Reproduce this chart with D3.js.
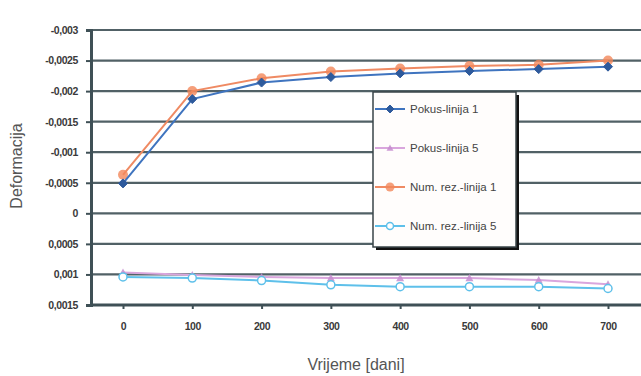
<!DOCTYPE html>
<html>
<head>
<meta charset="utf-8">
<script src="https://cdn.jsdelivr.net/npm/d3@7/dist/d3.min.js"></script>
<style>
  html, body { margin: 0; padding: 0; background: #ffffff; }
  svg { display: block; }
  text { font-family: "Liberation Sans", Arial, sans-serif; }
</style>
</head>
<body>
<svg id="chart" width="641" height="376"></svg>
<script>
// Time points (days)
const days = ["0", "100", "200", "300", "400", "500", "600", "700"];

// Measured and numerical deformation, lines 1 and 5
const pokusLinija1 = [-0.00049, -0.00187, -0.00214, -0.00223, -0.00229, -0.00233, -0.00236, -0.00240];
const pokusLinija5 = [0.00097, 0.00101, 0.00104, 0.00106, 0.00106, 0.00106, 0.00109, 0.00116];
const numRezLinija1 = [-0.00063, -0.00200, -0.00221, -0.00232, -0.00237, -0.00241, -0.00243, -0.00250];
const numRezLinija5 = [0.00104, 0.00106, 0.00110, 0.00117, 0.00120, 0.00120, 0.00120, 0.00123];

// Value-axis ticks and their printed labels
const yTicks = [-0.003, -0.0025, -0.002, -0.0015, -0.001, -0.0005, 0, 0.0005, 0.001, 0.0015];
const yTickLabels = ["-0,003", "-0,0025", "-0,002", "-0,0015", "-0,001", "-0,0005", "0", "0,0005", "0,001", "0,0015"];

const seriesNames = ["Pokus-linija 1", "Pokus-linija 5", "Num. rez.-linija 1", "Num. rez.-linija 5"];

const svg = d3.select("#chart");
const plot = { left: 91, right: 641, top: 30, bottom: 305 };

const x = d3.scalePoint().domain(days).range([123, 608]);
const y = d3.scaleLinear().domain([-0.003, 0.0015]).range([plot.top, plot.bottom]);

const gridColor = "#3f5056";

// Horizontal gridlines
svg.append("g").selectAll("line").data(yTicks).join("line")
  .attr("x1", plot.left).attr("x2", plot.right)
  .attr("y1", d => y(d)).attr("y2", d => y(d))
  .attr("stroke", gridColor).attr("stroke-width", 2.2).attr("opacity", 0.9);

// Value axis
const yAxis = d3.axisLeft(y).tickValues(yTicks)
  .tickFormat((d, i) => yTickLabels[i]).tickSize(5).tickPadding(8);
const gy = svg.append("g").attr("transform", `translate(${plot.left},0)`).call(yAxis);
gy.select(".domain").attr("stroke", gridColor).attr("stroke-width", 3);
gy.selectAll(".tick line").attr("stroke", gridColor).attr("stroke-width", 2);
gy.selectAll(".tick text").attr("fill", "#3a3a3a").attr("font-size", "10.5px")
  .attr("font-weight", "bold").attr("letter-spacing", "-0.4px");

// Category axis
const xAxis = d3.axisBottom(x).tickSize(4).tickPadding(14);
const gx = svg.append("g").attr("transform", `translate(0,${plot.bottom})`).call(xAxis);
gx.select(".domain").attr("d", `M${plot.left},0H${plot.right}`)
  .attr("stroke", gridColor).attr("stroke-width", 3);
gx.selectAll(".tick line").attr("stroke", gridColor).attr("stroke-width", 2);
gx.selectAll(".tick text").attr("fill", "#3a3a3a").attr("font-size", "10.5px")
  .attr("font-weight", "bold").attr("letter-spacing", "-0.4px");

// Axis titles
svg.append("text").attr("x", 356).attr("y", 370).attr("text-anchor", "middle")
  .attr("font-size", "16px").attr("fill", "#555").text("Vrijeme [dani]");
svg.append("text").attr("transform", "translate(22,166) rotate(-90)")
  .attr("text-anchor", "middle").attr("font-size", "16px").attr("fill", "#555").text("Deformacija");

const line = d3.line().x((d, i) => x(days[i])).y(d => y(d));

const styles = [
  { data: pokusLinija1, color: "#3f74bf", marker: "diamond", mfill: "#2e5a9c", size: 4.5 },
  { data: pokusLinija5, color: "#d9a6dd", marker: "triangle", mfill: "#c58ccf", size: 4 },
  { data: numRezLinija1, color: "#ef8a63", marker: "circle", mfill: "#f3875a", size: 5 },
  { data: numRezLinija5, color: "#5ec0ea", marker: "open", mfill: "#ffffff", size: 4 }
];

function drawMarker(g, kind, cx, cy, s, fill, stroke) {
  if (kind === "diamond") {
    g.append("path").attr("d", `M${cx},${cy - s}L${cx + s},${cy}L${cx},${cy + s}L${cx - s},${cy}Z`)
      .attr("fill", fill).attr("stroke", fill);
  } else if (kind === "triangle") {
    g.append("path").attr("d", `M${cx},${cy - s}L${cx + s},${cy + s * 0.8}L${cx - s},${cy + s * 0.8}Z`)
      .attr("fill", fill).attr("opacity", 0.85);
  } else if (kind === "circle") {
    g.append("circle").attr("cx", cx).attr("cy", cy).attr("r", s)
      .attr("fill", fill).attr("opacity", 0.8);
  } else {
    g.append("circle").attr("cx", cx).attr("cy", cy).attr("r", s)
      .attr("fill", "#ffffff").attr("stroke", stroke).attr("stroke-width", 1.5);
  }
}

// Draw order: lower lines, then numerical line 1, then measured line 1 on top
const order = [1, 3, 2, 0];
order.forEach(k => {
  const s = styles[k];
  const g = svg.append("g");
  g.append("path").datum(s.data).attr("d", line)
    .attr("fill", "none").attr("stroke", s.color).attr("stroke-width", 2);
  s.data.forEach((v, i) => drawMarker(g, s.marker, x(days[i]), y(v), s.size, s.mfill, s.color));
});

// Legend
const lg = svg.append("g");
const box = { x: 373, y: 92, w: 143, h: 155 };
lg.append("rect").attr("x", box.x + 3).attr("y", box.y + 3).attr("width", box.w).attr("height", box.h)
  .attr("fill", "#111");
lg.append("rect").attr("x", box.x).attr("y", box.y).attr("width", box.w).attr("height", box.h)
  .attr("fill", "#fffdfc").attr("stroke", "#3a4448").attr("stroke-width", 1.5);
seriesNames.forEach((name, i) => {
  const s = styles[i];
  const ly = 109 + i * 39;
  lg.append("line").attr("x1", 375).attr("x2", 405).attr("y1", ly).attr("y2", ly)
    .attr("stroke", s.color).attr("stroke-width", 2);
  drawMarker(lg, s.marker, 390, ly, s.size - 0.5, s.mfill, s.color);
  lg.append("text").attr("x", 410).attr("y", ly + 4).attr("font-size", "11.5px")
    .attr("fill", "#444").text(name);
});
</script>
</body>
</html>
